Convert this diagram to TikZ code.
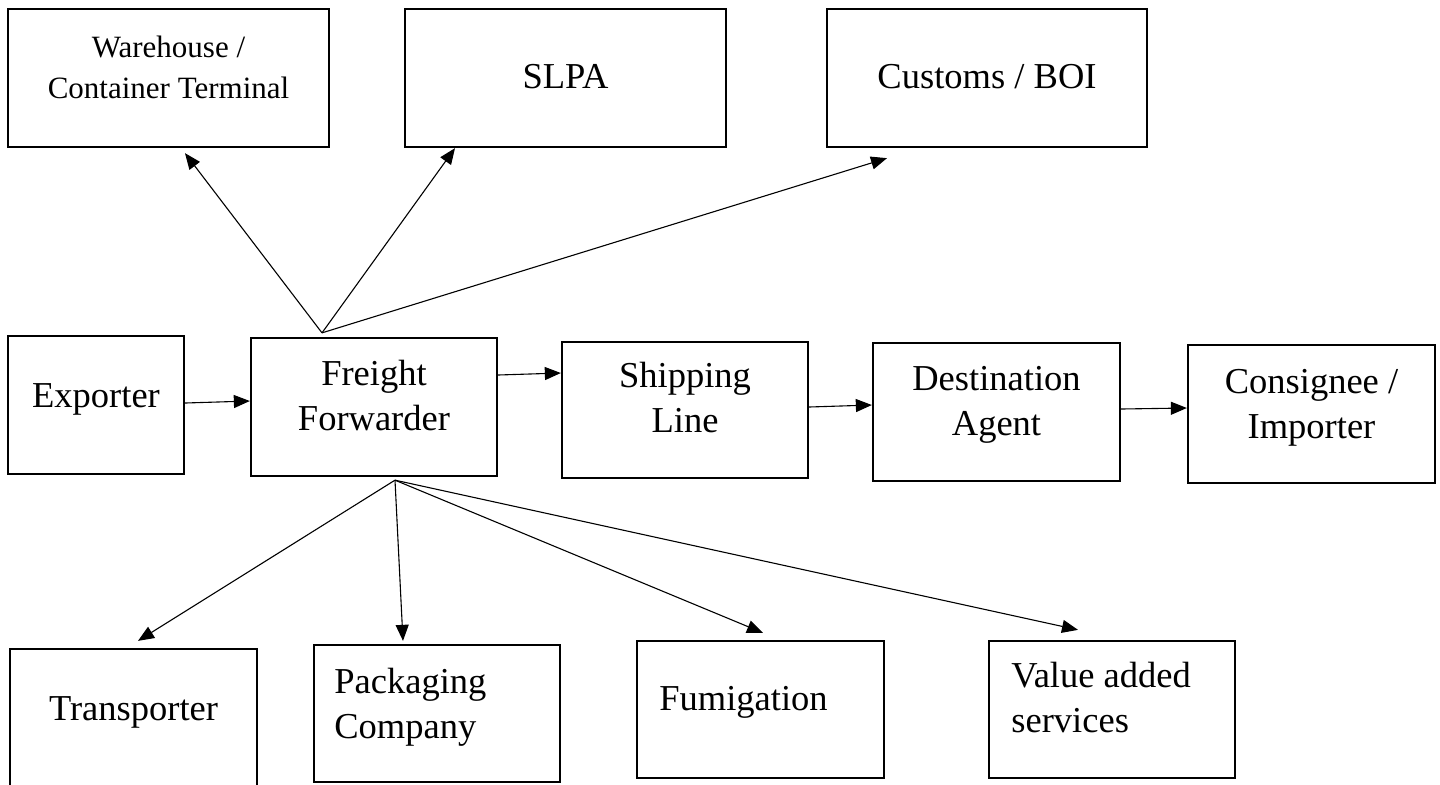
\documentclass[tikz,border=0pt]{standalone}
\usepackage{fontspec}
\setmainfont{Liberation Serif}
\usetikzlibrary{arrows.meta}

\tikzset{
    box/.style={draw=black, line width=1.15pt, rectangle, inner sep=0pt},
    lbl/.style={anchor=base, inner sep=0pt, font=\fontsize{18.25}{22.5}\selectfont},
    arr/.style={line width=0.55pt, color=black, -{Triangle[length=8pt, width=6.5pt]}}
}
\newcommand{\twolines}[3][c]{\begin{tabular}[t]{@{}#1@{}}#2\\#3\end{tabular}}

\begin{document}
\begin{tikzpicture}[x=0.5pt, y=-0.5pt]
        \useasboundingbox (0, 0) rectangle (1440, 784);

        % Top row:
        \node[box, minimum width=160.5pt, minimum height=69pt] (wh) at (168.5, 78) {};
        \node[box, minimum width=160.5pt, minimum height=69pt] (slpa) at (565.5, 78) {};
        \node[box, minimum width=160pt, minimum height=69pt] (cus) at (987, 78) {};

        % Middle row:
        \node[box, minimum width=88pt, minimum height=69pt] (exp) at (96, 405) {};
        \node[box, minimum width=123pt, minimum height=69pt] (ff) at (374, 407) {};
        \node[box, minimum width=123pt, minimum height=68pt] (ship) at (685, 410) {};
        \node[box, minimum width=123.5pt, minimum height=69pt] (dest) at (996.5, 412) {};
        \node[box, minimum width=123.5pt, minimum height=69pt] (cons) at (1311.5, 414) {};

        % Bottom row:
        \node[box, minimum width=123.5pt, minimum height=69.5pt] (trans) at (133.5, 718.5) {};
        \node[box, minimum width=123pt, minimum height=68.5pt] (pack) at (437, 713.5) {};
        \node[box, minimum width=123.5pt, minimum height=68.5pt] (fum) at (760.5, 709.5) {};
        \node[box, minimum width=123pt, minimum height=68.5pt] (val) at (1112, 709.5) {};

        % Labels:
        \node[lbl, font=\fontsize{15.5}{20.5}\selectfont] (whText) at (168.5, 57) {\twolines{Warehouse /}{Container Terminal}};
        \node[lbl] (slpaText) at (565.5, 88) {SLPA};
        \node[lbl] (cusText) at (987, 88) {Customs / BOI};
        \node[lbl] (expText) at (96, 407) {Exporter};
        \node[lbl] (ffText) at (374, 385) {\twolines{Freight}{Forwarder}};
        \node[lbl] (shipText) at (685, 387) {\twolines{Shipping}{Line}};
        \node[lbl] (destText) at (996.5, 390) {\twolines{Destination}{Agent}};
        \node[lbl] (consText) at (1311.5, 393) {\twolines{Consignee /}{Importer}};
        \node[lbl] (transText) at (133.5, 720) {Transporter};
        \node[lbl, anchor=base west] (packText) at (334, 693) {\twolines[l]{Packaging}{Company}};
        \node[lbl, anchor=base west] (fumText) at (659, 710) {Fumigation};
        \node[lbl, anchor=base west] (valText) at (1011, 687) {\twolines[l]{Value added}{services}};

        % Chain of arrows:
        \draw[arr] ([yshift=1pt]exp.east) -- ([yshift=3pt]ff.west);
        \draw[arr] ([yshift=16pt]ff.east) -- ([yshift=18.5pt]ship.west);
        \draw[arr] ([yshift=1.5pt]ship.east) -- ([yshift=3.5pt]dest.west);
        \draw[arr] ([yshift=1.5pt]dest.east) -- ([yshift=3pt]cons.west);

        % Arrows out of the forwarder:
        \coordinate (ffUp) at ([xshift=-26pt, yshift=2pt]ff.north);
        \coordinate (ffDown) at ([xshift=10.5pt, yshift=-1.5pt]ff.south);
        \foreach \t/\dx/\dy in {wh/8.25/-2.5, slpa/-55.25/0, cus/-50/-5}
            \draw[arr] (ffUp) -- ([xshift=\dx pt, yshift=\dy pt]\t.south);
        \foreach \t/\dx/\dy in {trans/2.25/3.5, pack/-17/1.5, fum/1.25/3.5, val/-17/5}
            \draw[arr] (ffDown) -- ([xshift=\dx pt, yshift=\dy pt]\t.north);
    \end{tikzpicture}
\end{document}
